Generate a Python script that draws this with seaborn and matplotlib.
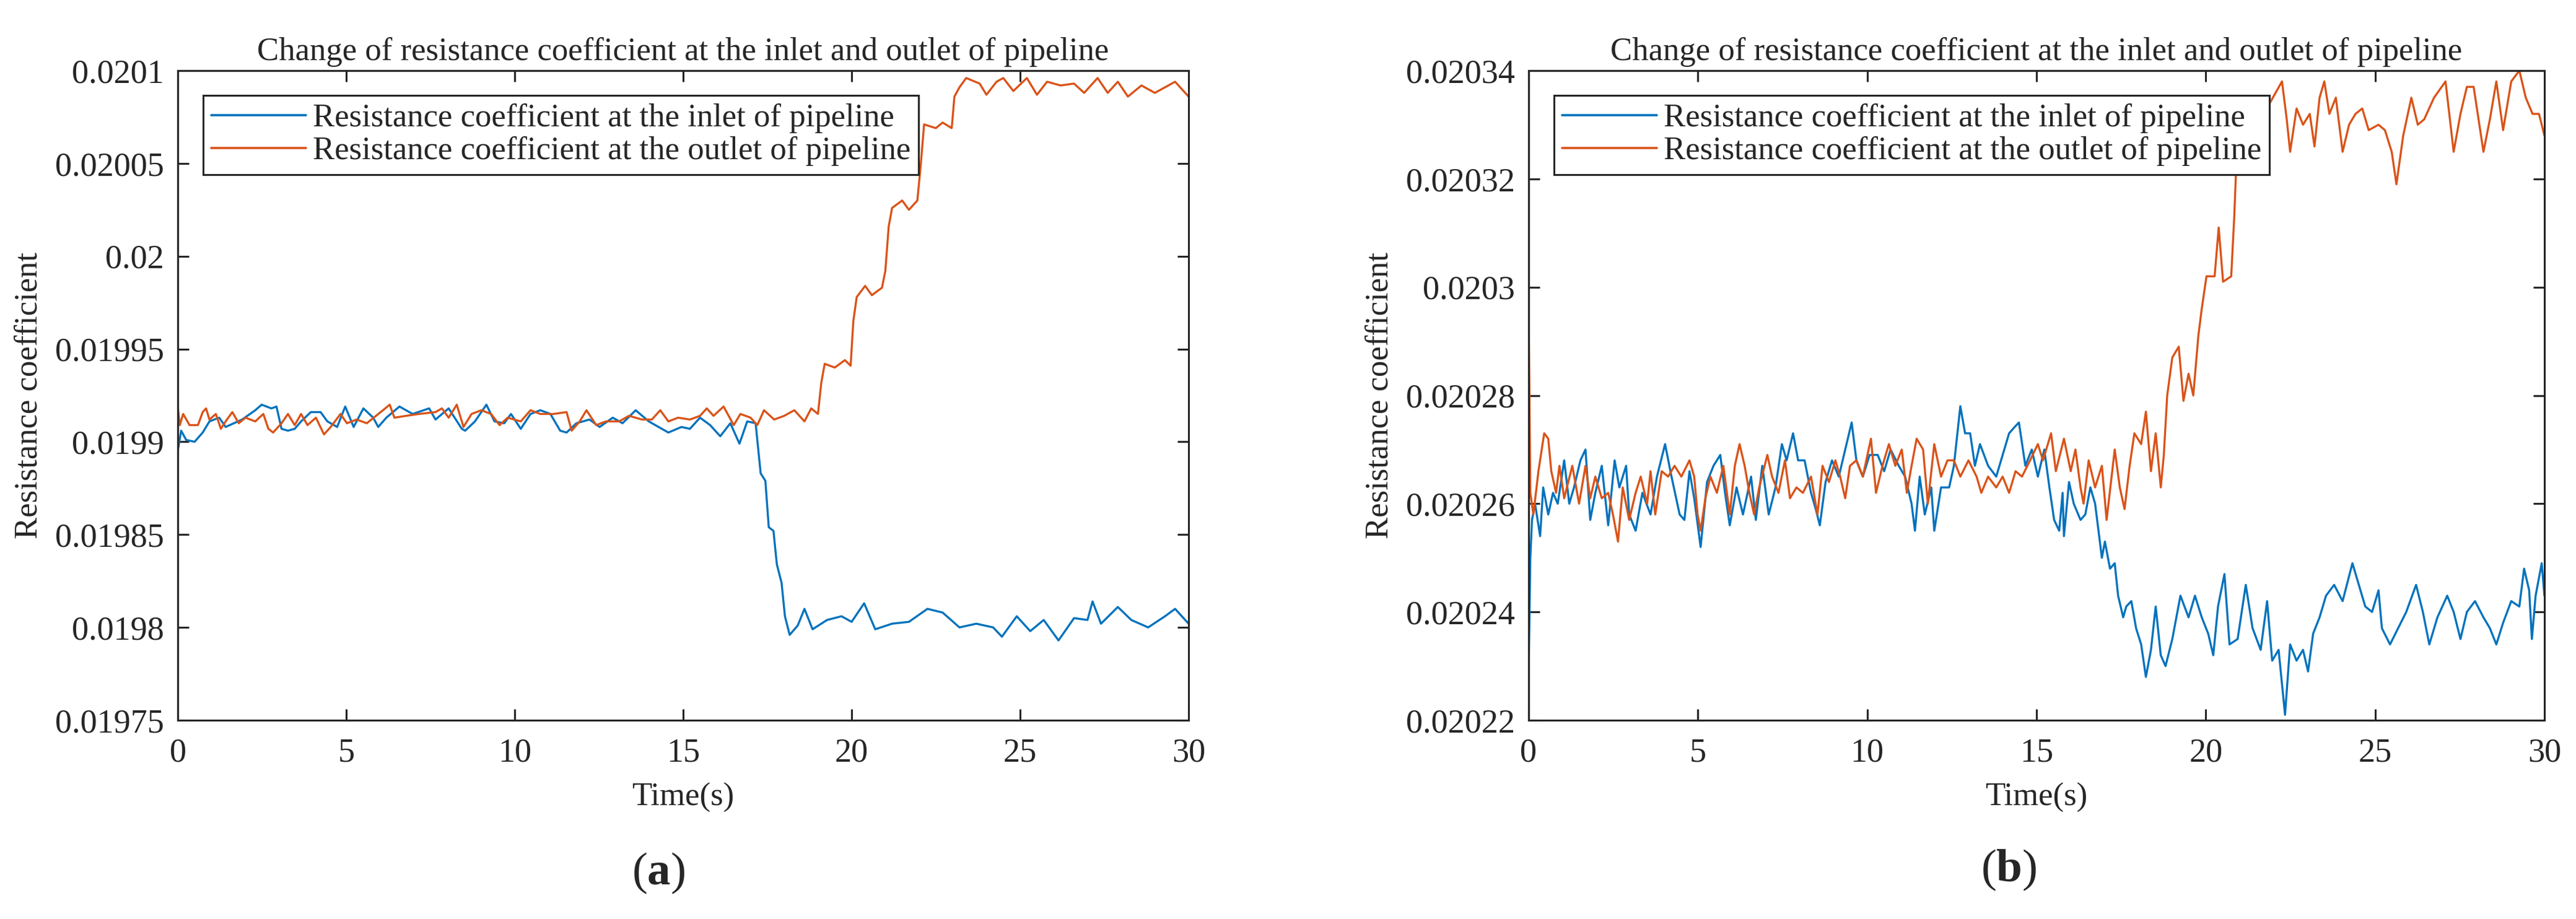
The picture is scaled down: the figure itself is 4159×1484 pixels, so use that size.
import matplotlib
matplotlib.use("Agg")
import matplotlib.pyplot as plt
import matplotlib.ticker as mticker
import pandas as pd
import seaborn as sns

# ------------------------------------------------------------
# Data (time in s, coefficient)
# ------------------------------------------------------------
# panel (a)
a_in_t = [0, 0.1, 0.25, 0.5, 0.74, 0.94, 1.23, 1.42, 1.91, 2.3,
          2.49, 2.78, 2.93, 3.08, 3.27, 3.47, 3.66, 3.95, 4.24, 4.44,
          4.73, 4.97, 5.22, 5.51, 5.8, 5.95, 6.19, 6.58, 6.97, 7.46,
          7.65, 8.04, 8.43, 8.53, 8.82, 9.16, 9.4, 9.69, 9.89, 10.18,
          10.47, 10.76, 11.06, 11.35, 11.54, 11.83, 12.22, 12.52, 12.91, 13.2,
          13.59, 13.98, 14.56, 14.95, 15.2, 15.5, 15.8, 16.1, 16.4, 16.67,
          16.9, 17.15, 17.3, 17.44, 17.54, 17.68, 17.78, 17.92, 18.02, 18.16,
          18.4, 18.6, 18.84, 19.27, 19.7, 20.0, 20.37, 20.7, 21.2, 21.7,
          22.25, 22.7, 23.2, 23.7, 24.2, 24.46, 24.9, 25.3, 25.7, 26.14,
          26.6, 27.0, 27.15, 27.4, 27.9, 28.3, 28.8, 29.3, 29.6, 30.0]
a_in_v = [0.019895, 0.019906, 0.019901, 0.019900, 0.019905, 0.019911, 0.019913, 0.019908, 0.019912, 0.019917,
          0.019920, 0.019918, 0.019919, 0.019907, 0.019906, 0.019907, 0.019911, 0.019916, 0.019916, 0.019911,
          0.019908, 0.019919, 0.019908, 0.019918, 0.019913, 0.019908, 0.019913, 0.019919, 0.019915, 0.019918,
          0.019912, 0.019918, 0.019907, 0.019906, 0.019911, 0.019920, 0.019911, 0.019910, 0.019915, 0.019907,
          0.019915, 0.019917, 0.019915, 0.019906, 0.019905, 0.019910, 0.019912, 0.019908, 0.019913, 0.019910,
          0.019917, 0.019911, 0.019905, 0.019908, 0.019907, 0.019913, 0.019909, 0.019903, 0.019910, 0.019899,
          0.019911, 0.019910, 0.019883, 0.019879, 0.019854, 0.019852, 0.019834, 0.019824, 0.019806, 0.019796,
          0.019801, 0.019810, 0.019799, 0.019804, 0.019806, 0.019803, 0.019813, 0.019799, 0.019802, 0.019803,
          0.019810, 0.019808, 0.019800, 0.019802, 0.019800, 0.019795, 0.019806, 0.019798, 0.019804, 0.019793,
          0.019805, 0.019804, 0.019814, 0.019802, 0.019811, 0.019804, 0.019800, 0.019806, 0.019810, 0.019802]

a_out_t = [0, 0.06, 0.16, 0.35, 0.6, 0.74, 0.84, 0.94, 1.13, 1.28,
           1.42, 1.62, 1.81, 2.01, 2.3, 2.54, 2.69, 2.83, 3.08, 3.27,
           3.47, 3.66, 3.85, 4.1, 4.34, 4.54, 4.83, 5.02, 5.31, 5.61,
           6.09, 6.29, 6.43, 6.78, 7.16, 7.65, 7.84, 8.04, 8.28, 8.48,
           8.72, 9.01, 9.3, 9.55, 9.79, 10.18, 10.47, 10.76, 11.15, 11.54,
           11.69, 11.93, 12.13, 12.42, 12.71, 13.1, 13.39, 13.78, 14.07, 14.32,
           14.56, 14.85, 15.2, 15.5, 15.7, 15.9, 16.2, 16.5, 16.7, 17.0,
           17.2, 17.4, 17.7, 18.0, 18.3, 18.6, 18.8, 19.0, 19.1, 19.2,
           19.5, 19.8, 19.97, 20.05, 20.15, 20.4, 20.6, 20.9, 21.0, 21.1,
           21.2, 21.5, 21.7, 21.95, 22.05, 22.15, 22.5, 22.7, 22.97, 23.05,
           23.2, 23.4, 23.8, 24.0, 24.3, 24.5, 24.8, 25.2, 25.5, 25.8,
           26.2, 26.6, 26.9, 27.3, 27.6, 27.9, 28.2, 28.6, 29.0, 29.3,
           29.6, 30.0]
a_out_v = [0.019919, 0.019909, 0.019915, 0.019909, 0.019909, 0.019916, 0.019918, 0.019912, 0.019915, 0.019907,
           0.019911, 0.019916, 0.019910, 0.019913, 0.019911, 0.019915, 0.019907, 0.019905, 0.019910, 0.019915,
           0.019909, 0.019915, 0.019909, 0.019913, 0.019904, 0.019908, 0.019915, 0.019910, 0.019912, 0.019910,
           0.019917, 0.019920, 0.019913, 0.019914, 0.019915, 0.019916, 0.019918, 0.019913, 0.019920, 0.019908,
           0.019915, 0.019917, 0.019915, 0.019909, 0.019913, 0.019911, 0.019917, 0.019915, 0.019915, 0.019916,
           0.019906, 0.019911, 0.019917, 0.019909, 0.019911, 0.019911, 0.019914, 0.019912, 0.019912, 0.019917,
           0.019911, 0.019913, 0.019912, 0.019914, 0.019918, 0.019914, 0.019919, 0.019909, 0.019915, 0.019913,
           0.019909, 0.019917, 0.019912, 0.019914, 0.019917, 0.019911, 0.019918, 0.019915, 0.019932, 0.019942,
           0.019940, 0.019944, 0.019941, 0.019965, 0.019978, 0.019984, 0.019979, 0.019983, 0.019992, 0.020016,
           0.020026, 0.020030, 0.020025, 0.020030, 0.020049, 0.020071, 0.020069, 0.020072, 0.020069, 0.020086,
           0.020091, 0.020096, 0.020093, 0.020087, 0.020094, 0.020096, 0.020089, 0.020096, 0.020087, 0.020094,
           0.020092, 0.020093, 0.020088, 0.020096, 0.020088, 0.020094, 0.020086, 0.020092, 0.020088, 0.020091,
           0.020094, 0.020086]

# panel (b)
b_in_t = [0.0, 0.05, 0.10, 0.19, 0.34, 0.43, 0.58, 0.72, 0.86, 1.05,
          1.20, 1.34, 1.53, 1.68, 1.82, 1.97, 2.16, 2.35, 2.54, 2.68,
          2.88, 2.97, 3.16, 3.36, 3.60, 3.79, 4.03, 4.22, 4.46, 4.60,
          4.75, 4.89, 5.08, 5.27, 5.46, 5.66, 5.80, 5.94, 6.14, 6.33,
          6.57, 6.71, 6.90, 7.09, 7.29, 7.48, 7.62, 7.81, 7.96, 8.15,
          8.34, 8.48, 8.60, 8.77, 8.96, 9.16, 9.35, 9.54, 9.68, 9.87,
          10.07, 10.31, 10.50, 10.69, 10.93, 11.12, 11.31, 11.41, 11.55, 11.70,
          11.89, 11.98, 12.18, 12.42, 12.56, 12.75, 12.89, 13.04, 13.18, 13.33,
          13.57, 13.81, 14.00, 14.19, 14.33, 14.48, 14.67, 14.86, 15.04, 15.23,
          15.38, 15.52, 15.67, 15.77, 15.81, 15.96, 16.10, 16.30, 16.44, 16.59,
          16.73, 16.83, 16.93, 17.02, 17.17, 17.31, 17.41, 17.56, 17.65, 17.80,
          17.94, 18.09, 18.23, 18.38, 18.52, 18.67, 18.81, 19.01, 19.25, 19.49,
          19.68, 19.88, 20.07, 20.22, 20.36, 20.55, 20.70, 20.94, 21.18, 21.38,
          21.62, 21.81, 21.96, 22.15, 22.34, 22.49, 22.68, 22.87, 23.02, 23.17,
          23.36, 23.55, 23.79, 24.04, 24.33, 24.52, 24.71, 24.91, 25.10, 25.20,
          25.44, 25.68, 25.92, 26.21, 26.41, 26.60, 26.84, 27.13, 27.32, 27.52,
          27.71, 27.95, 28.20, 28.39, 28.58, 28.78, 29.02, 29.26, 29.40, 29.55,
          29.63, 29.74, 29.92, 30.0]
b_in_v = [0.020229, 0.020250, 0.020257, 0.020260, 0.020254, 0.020263, 0.020258, 0.020262, 0.020260, 0.020268,
          0.020260, 0.020263, 0.020268, 0.020270, 0.020257, 0.020262, 0.020267, 0.020256, 0.020268, 0.020263,
          0.020267, 0.020258, 0.020255, 0.020262, 0.020258, 0.020265, 0.020271, 0.020265, 0.020258, 0.020257,
          0.020266, 0.020261, 0.020252, 0.020264, 0.020267, 0.020269, 0.020262, 0.020256, 0.020263, 0.020258,
          0.020265, 0.020257, 0.020267, 0.020258, 0.020263, 0.020271, 0.020268, 0.020273, 0.020268, 0.020268,
          0.020262, 0.020259, 0.020256, 0.020264, 0.020268, 0.020265, 0.020270, 0.020275, 0.020268, 0.020265,
          0.020269, 0.020269, 0.020266, 0.020270, 0.020267, 0.020265, 0.020260, 0.020255, 0.020265, 0.020258,
          0.020263, 0.020255, 0.020263, 0.020263, 0.020267, 0.020278, 0.020273, 0.020273, 0.020267, 0.020271,
          0.020267, 0.020265, 0.020269, 0.020273, 0.020274, 0.020275, 0.020267, 0.020270, 0.020265, 0.020270,
          0.020263, 0.020257, 0.020255, 0.020262, 0.020254, 0.020264, 0.020260, 0.020257, 0.020258, 0.020263,
          0.020260, 0.020255, 0.020250, 0.020253, 0.020248, 0.020249, 0.020243, 0.020239, 0.020241, 0.020242,
          0.020237, 0.020234, 0.020228, 0.020233, 0.020241, 0.020232, 0.020230, 0.020235, 0.020243, 0.020239,
          0.020243, 0.020239, 0.020236, 0.020232, 0.020241, 0.020247, 0.020234, 0.020235, 0.020245, 0.020237,
          0.020233, 0.020242, 0.020231, 0.020233, 0.020221, 0.020234, 0.020231, 0.020233, 0.020229, 0.020236,
          0.020239, 0.020243, 0.020245, 0.020242, 0.020249, 0.020245, 0.020241, 0.020240, 0.020244, 0.020237,
          0.020234, 0.020237, 0.020240, 0.020245, 0.020240, 0.020234, 0.020239, 0.020243, 0.020240, 0.020235,
          0.020240, 0.020242, 0.020239, 0.020237, 0.020234, 0.020238, 0.020242, 0.020241, 0.020248, 0.020244,
          0.020235, 0.020243, 0.020249, 0.020243]

b_out_t = [0.0, 0.05, 0.14, 0.29, 0.46, 0.58, 0.67, 0.81, 0.91, 1.05,
           1.29, 1.49, 1.68, 1.82, 1.97, 2.16, 2.35, 2.49, 2.64, 2.78,
           2.97, 3.16, 3.31, 3.50, 3.60, 3.74, 3.93, 4.12, 4.31, 4.51,
           4.75, 4.89, 4.99, 5.08, 5.22, 5.37, 5.56, 5.75, 5.94, 6.09,
           6.23, 6.38, 6.52, 6.66, 6.81, 7.05, 7.19, 7.38, 7.57, 7.72,
           7.91, 8.10, 8.34, 8.53, 8.68, 8.87, 9.06, 9.20, 9.35, 9.49,
           9.68, 9.87, 10.11, 10.26, 10.45, 10.64, 10.83, 11.02, 11.17, 11.31,
           11.46, 11.65, 11.79, 11.98, 12.18, 12.37, 12.56, 12.75, 12.99, 13.23,
           13.37, 13.57, 13.81, 14.00, 14.19, 14.38, 14.57, 14.81, 15.04, 15.19,
           15.43, 15.57, 15.81, 16.01, 16.15, 16.30, 16.39, 16.54, 16.73, 16.93,
           17.07, 17.31, 17.46, 17.60, 17.75, 17.89, 18.09, 18.23, 18.38, 18.52,
           18.67, 18.76, 18.86, 19.01, 19.20, 19.34, 19.49, 19.63, 19.78, 19.88,
           20.02, 20.26, 20.38, 20.51, 20.75, 20.84, 20.94, 21.30, 21.80, 22.25,
           22.39, 22.49, 22.68, 22.87, 23.07, 23.21, 23.36, 23.50, 23.65, 23.84,
           24.04, 24.23, 24.42, 24.62, 24.81, 25.10, 25.29, 25.49, 25.63, 25.83,
           26.07, 26.26, 26.45, 26.74, 27.08, 27.32, 27.52, 27.71, 27.91, 28.20,
           28.39, 28.58, 28.78, 29.02, 29.26, 29.45, 29.65, 29.84, 30.0]
b_out_v = [0.020296, 0.020262, 0.020258, 0.020266, 0.020273, 0.020272, 0.020266, 0.020262, 0.020267, 0.020261,
           0.020267, 0.020260, 0.020267, 0.020261, 0.020265, 0.020261, 0.020262, 0.020258, 0.020253, 0.020263,
           0.020257, 0.020262, 0.020265, 0.020260, 0.020266, 0.020258, 0.020266, 0.020265, 0.020267, 0.020265,
           0.020268, 0.020265, 0.020258, 0.020255, 0.020261, 0.020265, 0.020262, 0.020267, 0.020258, 0.020267,
           0.020271, 0.020267, 0.020262, 0.020258, 0.020263, 0.020269, 0.020265, 0.020262, 0.020268, 0.020261,
           0.020263, 0.020262, 0.020265, 0.020258, 0.020267, 0.020264, 0.020268, 0.020265, 0.020261, 0.020267,
           0.020268, 0.020265, 0.020272, 0.020262, 0.020267, 0.020271, 0.020267, 0.020270, 0.020262, 0.020267,
           0.020272, 0.020270, 0.020260, 0.020271, 0.020265, 0.020268, 0.020268, 0.020265, 0.020268, 0.020265,
           0.020262, 0.020265, 0.020263, 0.020265, 0.020262, 0.020266, 0.020265, 0.020268, 0.020271, 0.020268,
           0.020273, 0.020266, 0.020272, 0.020266, 0.020270, 0.020263, 0.020260, 0.020268, 0.020263, 0.020267,
           0.020257, 0.020270, 0.020263, 0.020259, 0.020267, 0.020273, 0.020271, 0.020277, 0.020266, 0.020273,
           0.020263, 0.020269, 0.020280, 0.020287, 0.020289, 0.020279, 0.020284, 0.020280, 0.020291, 0.020296,
           0.020302, 0.020302, 0.020311, 0.020301, 0.020302, 0.020313, 0.020329, 0.020332, 0.020333, 0.020338,
           0.020331, 0.020325, 0.020333, 0.020330, 0.020332, 0.020326, 0.020335, 0.020338, 0.020332, 0.020335,
           0.020325, 0.020330, 0.020332, 0.020333, 0.020329, 0.020330, 0.020329, 0.020325, 0.020319, 0.020328,
           0.020335, 0.020330, 0.020331, 0.020335, 0.020338, 0.020325, 0.020332, 0.020337, 0.020337, 0.020325,
           0.020331, 0.020338, 0.020329, 0.020338, 0.020340, 0.020335, 0.020332, 0.020332, 0.020328]

x_ticks = [0, 5, 10, 15, 20, 25, 30]
a_y_ticks = [0.01975, 0.0198, 0.01985, 0.0199, 0.01995, 0.02, 0.02005, 0.0201]
b_y_ticks = [0.02022, 0.02024, 0.02026, 0.02028, 0.0203, 0.02032, 0.02034]

label_in = "Resistance coefficient at the inlet of pipeline"
label_out = "Resistance coefficient at the outlet of pipeline"
title_text = "Change of resistance coefficient at the inlet and outlet of pipeline"

# ------------------------------------------------------------
# Style
# ------------------------------------------------------------
sns.set_style("ticks")
plt.rcParams["font.family"] = ["Liberation Serif", "DejaVu Serif"]
plt.rcParams["mathtext.fontset"] = "custom"
plt.rcParams["mathtext.rm"] = "Liberation Serif"
plt.rcParams["mathtext.bf"] = "Liberation Serif:bold"

BLUE = "#0072BD"
ORANGE = "#D95319"
AXC = "#262626"
FS = 38        # title, legend, axis labels
FS_TICK = 39   # tick labels

W, H = 4159, 1484
fig = plt.figure(figsize=(W / 100, H / 100), dpi=100)
ax_a = fig.add_axes([287 / W, 1 - 1163 / H, 1632 / W, 1049 / H])
ax_b = fig.add_axes([2468 / W, 1 - 1163 / H, 1640 / W, 1049 / H])


def draw_panel(ax, t_in, v_in, t_out, v_out, y_ticks):
    df_in = pd.DataFrame({"Time": t_in, "Value": v_in})
    df_out = pd.DataFrame({"Time": t_out, "Value": v_out})
    sns.lineplot(data=df_in, x="Time", y="Value", ax=ax, color=BLUE,
                 linewidth=2.4, estimator=None, sort=False, label=label_in)
    sns.lineplot(data=df_out, x="Time", y="Value", ax=ax, color=ORANGE,
                 linewidth=2.4, estimator=None, sort=False, label=label_out)

    ax.set_xlim(x_ticks[0], x_ticks[-1])
    ax.set_ylim(y_ticks[0], y_ticks[-1])
    ax.set_xticks(x_ticks)
    ax.set_yticks(y_ticks)
    ax.yaxis.set_major_formatter(
        mticker.FuncFormatter(lambda v, p: format(round(v, 7), "g")))

    for sp in ax.spines.values():
        sp.set_visible(True)
        sp.set_color(AXC)
        sp.set_linewidth(2.2)
    ax.tick_params(direction="in", top=True, right=True, length=13,
                   width=2.2, color=AXC, labelcolor=AXC, labelsize=FS_TICK)
    ax.tick_params(axis="x", pad=20)
    ax.tick_params(axis="y", pad=16)

    ax.set_title(title_text, fontsize=FS, pad=12)
    ax.set_xlabel("Time(s)", fontsize=FS, labelpad=16, color=AXC)
    ax.set_ylabel("Resistance coefficient", fontsize=FS, labelpad=13, color=AXC)

    leg = ax.legend(loc="upper left", bbox_to_anchor=(0.025, 0.962),
                    borderaxespad=0, fontsize=FS, frameon=True, fancybox=False,
                    framealpha=1, edgecolor=AXC, handlelength=2.9,
                    handletextpad=0.2, labelspacing=0.1, borderpad=0.25)
    leg.get_frame().set_linewidth(2.2)
    for line in leg.get_lines():
        line.set_linewidth(2.6)


draw_panel(ax_a, a_in_t, a_in_v, a_out_t, a_out_v, a_y_ticks)
draw_panel(ax_b, b_in_t, b_in_v, b_out_t, b_out_v, b_y_ticks)

fig.text(1063 / W, 1 - 1410 / H, r"($\mathbf{a}$)", fontsize=54,
         ha="center", va="center")
fig.text(3243 / W, 1 - 1405 / H, r"($\mathbf{b}$)", fontsize=54,
         ha="center", va="center")

fig.savefig("out.png", dpi=100)
